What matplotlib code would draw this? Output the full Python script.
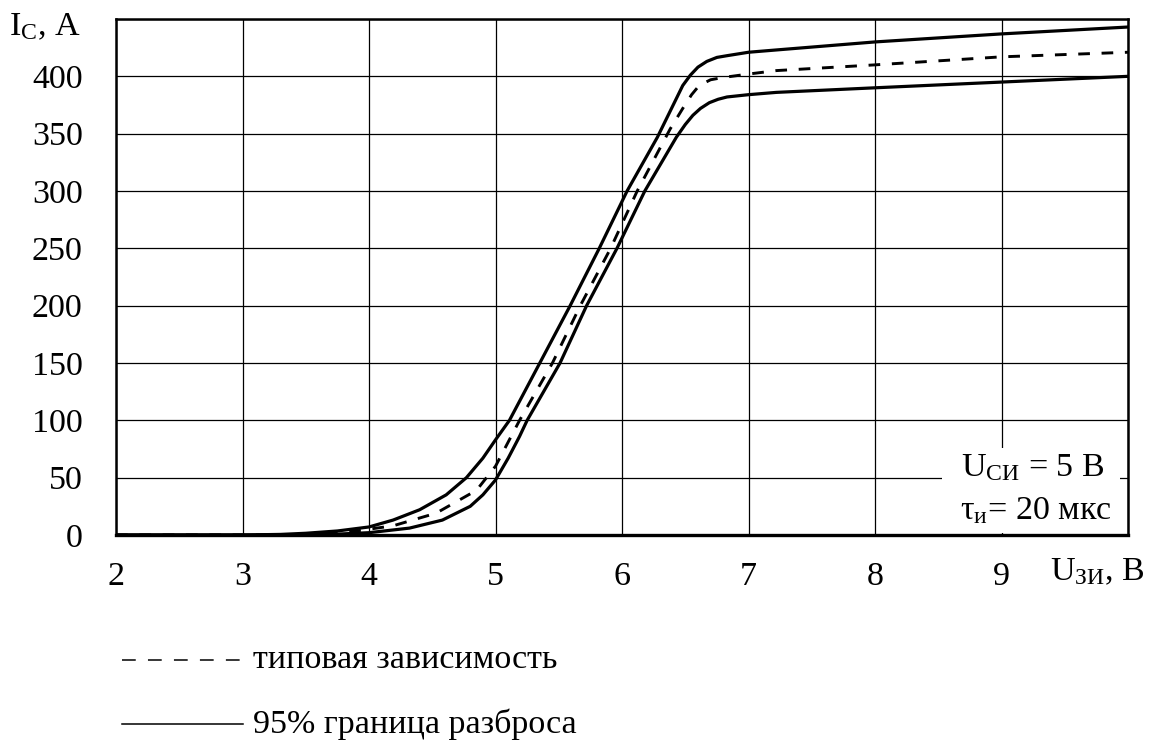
import matplotlib
matplotlib.use('Agg')
import matplotlib.pyplot as plt
from matplotlib.lines import Line2D
from matplotlib.patches import Rectangle

plt.rcParams['font.family'] = ['Liberation Serif', 'DejaVu Serif']
plt.rcParams['mathtext.fontset'] = 'custom'
plt.rcParams['mathtext.rm'] = 'Liberation Serif'
plt.rcParams['mathtext.it'] = 'Liberation Serif'

# values (U_ЗИ in V, I_C in A)
upper_u = [2.0, 3.0, 3.3, 3.5, 3.75, 4.0, 4.19, 4.4, 4.61, 4.77, 4.9, 5.0, 5.11,
           5.35, 5.59, 5.82, 6.04, 6.28, 6.48, 6.54, 6.6, 6.67, 6.75, 6.83, 7.0,
           7.22, 8.0, 9.0, 10.0]
upper_i = [0, 0, 0.5, 1.5, 3.5, 7, 13, 22, 35, 50, 67, 83, 100,
           150, 200, 250, 300, 347, 392, 401, 408, 413, 416.5, 418, 421,
           423, 430, 437, 443]

typ_u = [2.0, 3.3, 3.6, 3.9, 4.19, 4.53, 4.85, 5.0, 5.19, 5.45, 5.67, 5.91,
         6.12, 6.38, 6.48, 6.55, 6.61, 6.7, 6.8, 7.0, 7.22, 8.0, 9.0, 10.0]
typ_i = [0, 0, 1, 3.5, 8, 19, 39, 60, 100, 150, 200, 250,
         300, 354, 372, 384, 392, 397, 399, 402, 405, 410, 417, 421]

lower_u = [2.0, 3.4, 3.7, 4.0, 4.32, 4.58, 4.8, 4.9, 5.0, 5.1, 5.19, 5.25, 5.51,
           5.72, 5.96, 6.18, 6.43, 6.5, 6.56, 6.62, 6.69, 6.76, 6.83, 7.0, 7.22,
           8.0, 9.0, 10.0]
lower_i = [0, 0, 0.5, 2, 6, 13, 25, 35, 48, 67, 86, 100, 150,
           200, 250, 300, 347, 358, 366, 372, 377, 380, 382, 384, 386,
           390, 395, 400]

x_ticks = [2, 3, 4, 5, 6, 7, 8, 9]
y_ticks = [0, 50, 100, 150, 200, 250, 300, 350, 400]

FS = 24.5

fig = plt.figure(figsize=(11.59, 7.42), dpi=100)
ax = fig.add_axes([0.1001, 0.279, 0.8732, 0.6954])

ax.plot(upper_u, upper_i, color='black', lw=2.3, zorder=3, solid_joinstyle='round')
ax.plot(lower_u, lower_i, color='black', lw=2.3, zorder=3, solid_joinstyle='round')
ax.plot(typ_u, typ_i, color='black', lw=2.1, dashes=(4, 4), zorder=3)

ax.set_xlim(2, 10)
ax.set_ylim(0, 450)
ax.set_xticks(list(range(2, 11)))
ax.set_yticks(list(range(0, 451, 50)))
ax.set_xticklabels([str(t) for t in x_ticks] + [''])
ax.set_yticklabels([str(t) for t in y_ticks] + [''])
ax.grid(True, color='black', lw=0.9)
ax.tick_params(length=0, labelsize=FS)
ax.tick_params(axis='x', pad=19)
ax.tick_params(axis='y', pad=24)
for s in ax.spines.values():
    s.set_linewidth(1.8)
ax.spines['bottom'].set_linewidth(2.4)

ax.text(-0.035, 0.985, r'$\mathrm{I_{C}}$, A', transform=ax.transAxes,
        ha='right', va='center', fontsize=FS)
ax.text(0.923, -0.072, r'$\mathrm{U_{ЗИ}}$, В', transform=ax.transAxes,
        ha='left', va='center', fontsize=FS)

# conditions box
ax.add_patch(Rectangle((0.816, 0.004), 0.176, 0.165, transform=ax.transAxes,
                       facecolor='white', edgecolor='none', zorder=2.5))
ax.text(0.906, 0.130, r'$\mathrm{U_{СИ}}$ = 5 В', transform=ax.transAxes,
        ha='center', va='center', fontsize=FS, zorder=4)
ax.text(0.909, 0.046, r'$\mathrm{\tau_{и}}$= 20 мкс', transform=ax.transAxes,
        ha='center', va='center', fontsize=FS, zorder=4)

# legend below the chart
fig.add_artist(Line2D([0.105, 0.21], [0.111, 0.111], transform=fig.transFigure,
                      color='black', lw=1.1, dashes=(9, 8)))
fig.add_artist(Line2D([0.105, 0.21], [0.024, 0.024], transform=fig.transFigure,
                      color='black', lw=1.1))
fig.text(0.218, 0.111, 'типовая зависимость', ha='left', va='center', fontsize=FS)
fig.text(0.218, 0.024, '95% граница разброса', ha='left', va='center', fontsize=FS)

fig.savefig('out.png', dpi=100)
